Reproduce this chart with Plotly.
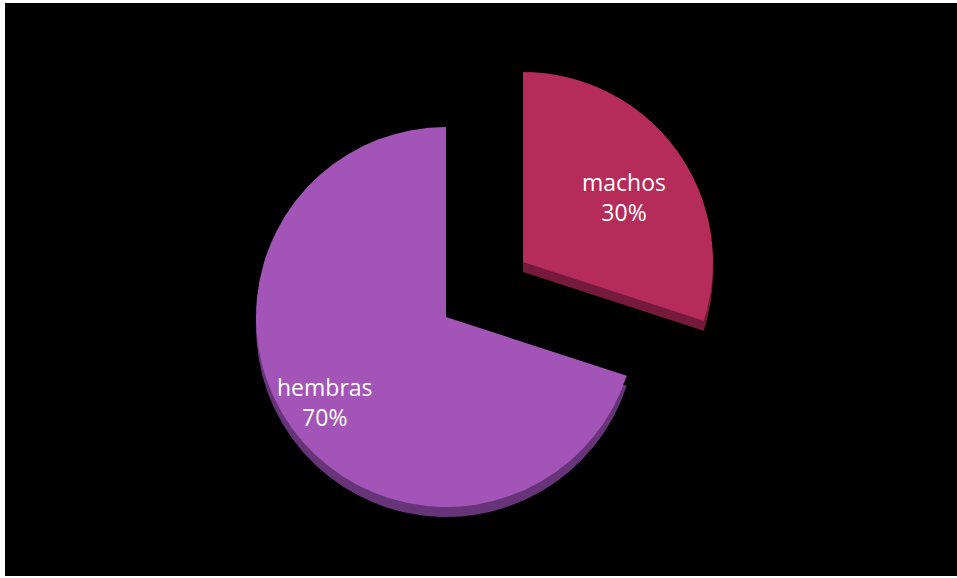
import math
import plotly.graph_objects as go

# Data
categories = ["machos", "hembras"]
shares = [30, 70]

# Colours
top_colors = ["#B52B5A", "#A254B7"]
side_colors = ["#761A3B", "#67347A"]
CLEAR = "rgba(0,0,0,0)"

W, H = 957, 578
ML, MR, MT, MB = 5, 0, 3, 2
PW, PH = W - ML - MR, H - MT - MB

R = 190          # pie radius in px
DEPTH = 10       # thickness of the fake 3D side
CENTERS = {"hembras": (446, 317), "machos": (523, 262)}
LABEL_RADIUS = {"machos": 0.66, "hembras": 0.76}   # label distance as fraction of R
LABEL_SHIFT = {"machos": (0, 9), "hembras": (-4, 0)}  # px nudges


def px_to_paper(px, py):
    return (px - ML) / PW, (H - MB - py) / PH


def domain(cx, cy, r):
    x0, y1 = px_to_paper(cx - r, cy - r)
    x1, y0 = px_to_paper(cx + r, cy + r)
    return dict(x=[x0, x1], y=[y0, y1])


def slice_trace(show, colors, cx, cy):
    cols = [colors[i] if categories[i] == show else CLEAR for i in range(len(categories))]
    return go.Pie(
        labels=categories,
        values=shares,
        sort=False,
        direction="clockwise",
        rotation=0,
        marker=dict(colors=cols, line=dict(width=0)),
        textinfo="none",
        hoverinfo="skip",
        showlegend=False,
        domain=domain(cx, cy, R),
    )


fig = go.Figure()
# side faces (shifted down), then top faces
for name in ["hembras", "machos"]:
    cx, cy = CENTERS[name]
    fig.add_trace(slice_trace(name, side_colors, cx, cy + DEPTH))
for name in ["hembras", "machos"]:
    cx, cy = CENTERS[name]
    fig.add_trace(slice_trace(name, top_colors, cx, cy))

# category + percentage labels at each slice's mid-angle
total = sum(shares)
annotations = []
start = 0.0
for name, v in zip(categories, shares):
    span = 360.0 * v / total
    mid = math.radians(start + span / 2)   # clockwise from 12 o'clock
    start += span
    cx, cy = CENTERS[name]
    rr = LABEL_RADIUS[name] * R
    lx = cx + rr * math.sin(mid) + LABEL_SHIFT[name][0]
    ly = cy - rr * math.cos(mid) + LABEL_SHIFT[name][1]
    ax, ay = px_to_paper(lx, ly)
    annotations.append(dict(
        x=ax, y=ay, xref="paper", yref="paper",
        text=f"{name}<br>{round(100 * v / total)}%",
        showarrow=False, xanchor="center", yanchor="middle",
        font=dict(color="white", size=23, family="Open Sans"),
    ))

fig.update_layout(
    width=W,
    height=H,
    margin=dict(l=ML, r=MR, t=MT, b=MB),
    paper_bgcolor="white",
    shapes=[dict(type="rect", xref="paper", yref="paper", x0=0, x1=1, y0=0, y1=1,
                 fillcolor="black", line=dict(width=0), layer="below")],
    annotations=annotations,
)

fig.write_html("out.html")
